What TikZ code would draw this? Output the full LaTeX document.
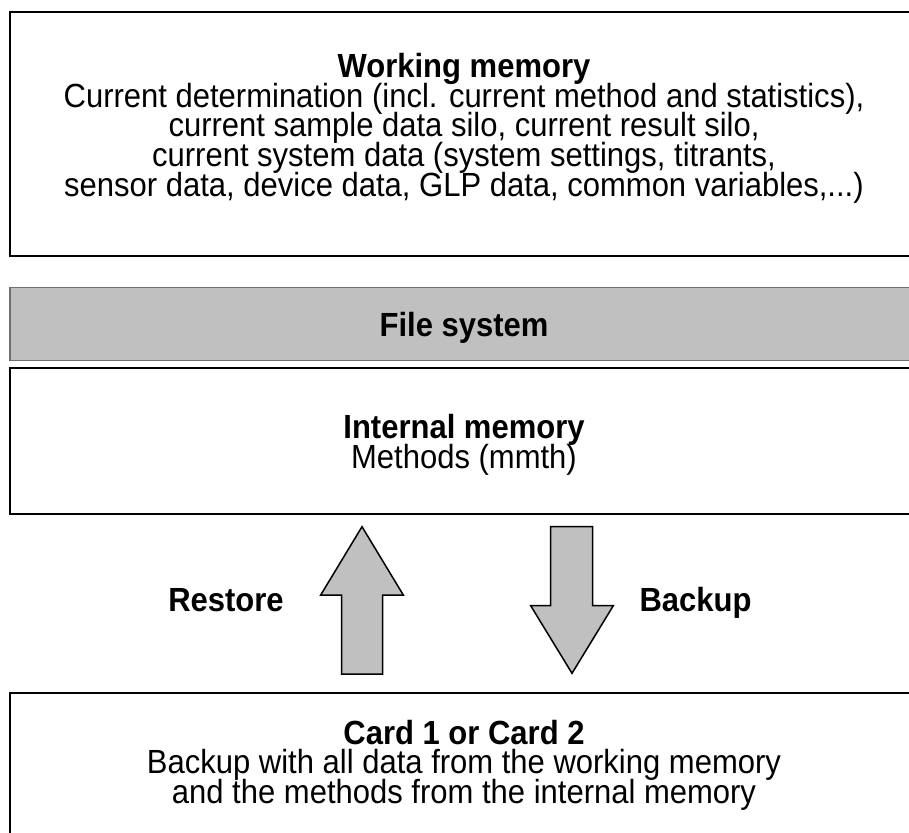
\documentclass[tikz,border=0pt]{standalone}
\usepackage{graphicx}
\usepackage{fontspec}
\setmainfont{Liberation Sans}
\definecolor{fsgray}{HTML}{C0C0C0}
\definecolor{fsedge}{HTML}{707070}
\newcommand{\vstretch}[1]{\scalebox{1}[1.08]{#1}}
\begin{document}
\begin{tikzpicture}[x=1pt,y=-1pt,
  box/.style={draw=black, line width=2pt, fill=white, inner sep=0pt, outer sep=0pt},
  fsbox/.style={draw=fsedge, line width=1.5pt, fill=fsgray, inner sep=0pt, outer sep=0pt},
  txt/.style={font={\fontsize{31}{29.6}\selectfont\lineskiplimit=-60pt}, inner sep=0pt, anchor=base, align=center},
  ttl/.style={font=\fontsize{31}{29.6}\selectfont\bfseries, inner sep=0pt, anchor=base},
  bigarrow/.style={draw=black, line width=1.5pt, fill=fsgray, line join=miter}]
\clip (0,0) rectangle (909,832);
\fill[white] (0,0) rectangle (909,832);
% boxes
\node[box, minimum width=908pt, minimum height=244pt] (wm) at (464,134) {};
\node[fsbox, minimum width=908pt, minimum height=73pt] (fs) at (464,324.2) {};
\node[box, minimum width=908pt, minimum height=146.3pt] (im) at (464,440.9) {};
\node[box, minimum width=908pt, minimum height=207pt] (card) at (464,796) {};
% working memory text (base anchor = baseline of last line)
\node[txt] (wmtext) at (464,196) {\vstretch{\bfseries Working memory}\\
  \vstretch{Current determination (incl. current method and statistics),}\\
  \vstretch{current sample data silo, current result silo,}\\
  \vstretch{current system data (system settings, titrants,}\\
  \vstretch{sensor data, device data, GLP data, common variables,...)}};
% file system
\node[ttl] (fstext) at (464,336) {\vstretch{File system}};
% internal memory
\node[txt] (imtext) at (464,468.5) {\vstretch{\bfseries Internal memory}\\
  \vstretch{Methods (mmth)}};
% card
\node[txt] (cardtext) at (464,803.5) {\vstretch{\bfseries Card 1 or Card 2}\\
  \vstretch{Backup with all data from the working memory}\\
  \vstretch{and the methods from the internal memory}};
% arrows
\draw[bigarrow] (341.7,674) -- (341.7,595) -- (320.7,595) -- (362,526.7) -- (403.3,595) -- (382.7,595) -- (382.7,674) -- cycle;
\draw[bigarrow] (550.7,526.7) -- (592.7,526.7) -- (592.7,605.7) -- (613.3,605.7) -- (572,673.3) -- (530.7,605.7) -- (550.7,605.7) -- cycle;
\node[ttl] (rs) at (226,611) {\vstretch{Restore}};
\node[ttl] (bk) at (695.5,611) {\vstretch{Backup}};
\end{tikzpicture}
\end{document}
